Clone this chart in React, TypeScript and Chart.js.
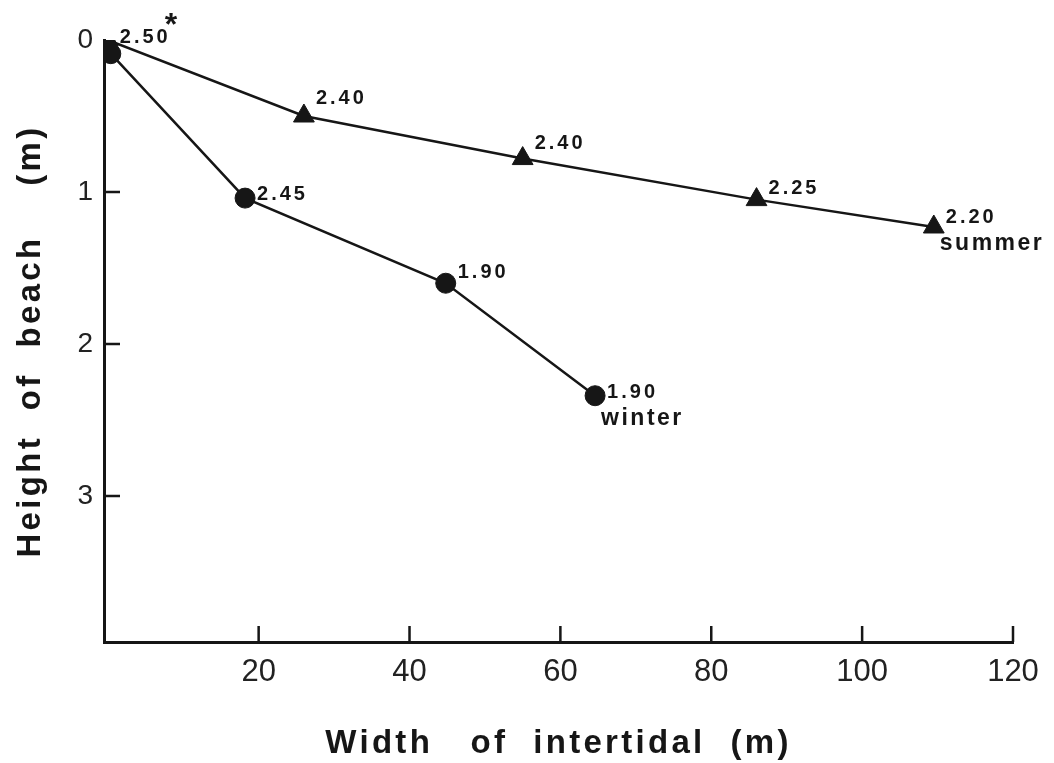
import React, { useEffect, useRef } from 'react';
import { Chart, registerables } from 'chart.js';

Chart.register(...registerables);

// ---- data ----
const X_TICKS = [20, 40, 60, 80, 100, 120];
const Y_TICKS = [0, 1, 2, 3];

const SUMMER_X = [0, 26, 55, 86, 109.5];
const SUMMER_Y = [0, 0.5, 0.78, 1.05, 1.23];
const SUMMER_LABELS = ['2.50', '2.40', '2.40', '2.25', '2.20'];

const WINTER_X = [0.4, 18.2, 44.8, 64.6];
const WINTER_Y = [0.09, 1.04, 1.6, 2.34];
const WINTER_LABELS = ['', '2.45', '1.90', '1.90'];

const SERIES_NAMES = ['summer', 'winter'];
const NOTE_MARK = '*';
const X_TITLE = 'Width   of  intertidal  (m)';
const Y_TITLE = 'Height  of  beach    (m)';

// label offsets (styling only, pixels relative to each point)
const SUMMER_LABEL_DY = [3, -12, -10, -6, -4];
const WINTER_LABEL_DY = [0, 2, -5, 2];

const INK = '#161616';
const SANS = '"Liberation Sans", Arial, Helvetica, sans-serif';

const annotatePlugin = {
  id: 'annotate',
  afterDatasetsDraw(chart: any) {
    const ctx = chart.ctx;
    ctx.save();
    ctx.fillStyle = INK;
    ctx.textAlign = 'left';
    ctx.textBaseline = 'alphabetic';
    chart.data.datasets.forEach((ds: any, i: number) => {
      const meta = chart.getDatasetMeta(i);
      const labels: string[] = ds.pointLabels;
      meta.data.forEach((pt: any, j: number) => {
        const txt = labels[j];
        if (!txt) return;
        const x = pt.x + 12;
        const y = pt.y + ds.labelDy[j];
        ctx.font = `bold 20px ${SANS}`;
        (ctx as any).letterSpacing = '3px';
        ctx.fillText(txt, x, y);
        if (ds.noteIndex === j) {
          const w = ctx.measureText(txt).width;
          ctx.save();
          ctx.font = `bold 32px ${SANS}`;
          (ctx as any).letterSpacing = '0px';
          ctx.fillText(NOTE_MARK, x + w - 6, y - 8);
          ctx.restore();
        }
        if (j === meta.data.length - 1) {
          ctx.font = `bold 23px ${SANS}`;
          (ctx as any).letterSpacing = '2.5px';
          ctx.fillText(ds.label, x - 6, y + 27);
        }
      });
    });
    ctx.restore();
  },
  afterDraw(chart: any) {
    const ctx = chart.ctx;
    const { left, right, top, bottom } = chart.chartArea;
    const xs = chart.scales.x;
    const ys = chart.scales.y;
    ctx.save();
    ctx.strokeStyle = INK;
    ctx.lineWidth = 2.5;
    ctx.beginPath();
    X_TICKS.forEach((v) => {
      const px = xs.getPixelForValue(v);
      ctx.moveTo(px, bottom);
      ctx.lineTo(px, bottom - 16);
    });
    Y_TICKS.filter((v) => v > 0).forEach((v) => {
      const py = ys.getPixelForValue(v);
      ctx.moveTo(left, py);
      ctx.lineTo(left + 16, py);
    });
    ctx.stroke();

    ctx.fillStyle = INK;
    ctx.font = `bold 33px ${SANS}`;
    (ctx as any).letterSpacing = '3.3px';
    ctx.textAlign = 'center';
    ctx.textBaseline = 'middle';
    ctx.fillText(X_TITLE, (left + right) / 2, 744);
    ctx.translate(31, (top + bottom) / 2);
    ctx.rotate(-Math.PI / 2);
    ctx.fillText(Y_TITLE, 0, 0);
    ctx.restore();
  },
};

export default function App() {
  const ref = useRef<HTMLCanvasElement | null>(null);
  useEffect(() => {
    if (!ref.current) return;
    const chart = new Chart(ref.current, {
      type: 'line',
      data: {
        datasets: [
          {
            label: SERIES_NAMES[0],
            data: SUMMER_X.map((x, i) => ({ x, y: SUMMER_Y[i] })),
            borderColor: INK,
            backgroundColor: INK,
            borderWidth: 2.5,
            pointStyle: 'triangle',
            pointRadius: 12,
            pointBackgroundColor: INK,
            pointBorderColor: INK,
            pointBorderWidth: 1,
            tension: 0,
            fill: false,
            pointLabels: SUMMER_LABELS,
            labelDy: SUMMER_LABEL_DY,
            noteIndex: 0,
          } as any,
          {
            label: SERIES_NAMES[1],
            data: WINTER_X.map((x, i) => ({ x, y: WINTER_Y[i] })),
            borderColor: INK,
            backgroundColor: INK,
            borderWidth: 2.5,
            pointStyle: 'circle',
            pointRadius: 10,
            pointBackgroundColor: INK,
            pointBorderColor: INK,
            pointBorderWidth: 1,
            tension: 0,
            fill: false,
            pointLabels: WINTER_LABELS,
            labelDy: WINTER_LABEL_DY,
            noteIndex: -1,
          } as any,
        ],
      },
      options: {
        animation: false,
        responsive: false,
        devicePixelRatio: 1,
        layout: { padding: { top: 40, right: 41, left: 0, bottom: 0 } },
        plugins: {
          legend: { display: false },
          tooltip: { enabled: false },
          title: { display: false },
        },
        scales: {
          x: {
            type: 'linear',
            min: -0.5,
            max: 120,
            afterBuildTicks: (s: any) => {
              s.ticks = X_TICKS.map((v) => ({ value: v }));
            },
            afterFit: (s: any) => {
              s.height = 121;
            },
            grid: { display: false, drawTicks: false },
            border: { display: true, color: INK, width: 3 },
            ticks: {
              color: '#222',
              font: { family: SANS, size: 31 },
              padding: 12,
              maxRotation: 0,
              autoSkip: false,
            },
          },
          y: {
            type: 'linear',
            reverse: true,
            min: 0,
            max: 3.96,
            afterBuildTicks: (s: any) => {
              s.ticks = Y_TICKS.map((v) => ({ value: v }));
            },
            afterFit: (s: any) => {
              s.width = 104;
            },
            grid: { display: false, drawTicks: false },
            border: { display: true, color: INK, width: 3 },
            ticks: {
              color: '#222',
              font: { family: SANS, size: 28 },
              padding: 11,
              autoSkip: false,
            },
          },
        },
      },
      plugins: [annotatePlugin],
    });
    return () => chart.destroy();
  }, []);
  return (
    <div style={{ position: 'fixed', left: 0, top: 0, width: 1054, height: 763, background: '#fff' }}>
      <canvas ref={ref} width={1054} height={763} />
    </div>
  );
}
